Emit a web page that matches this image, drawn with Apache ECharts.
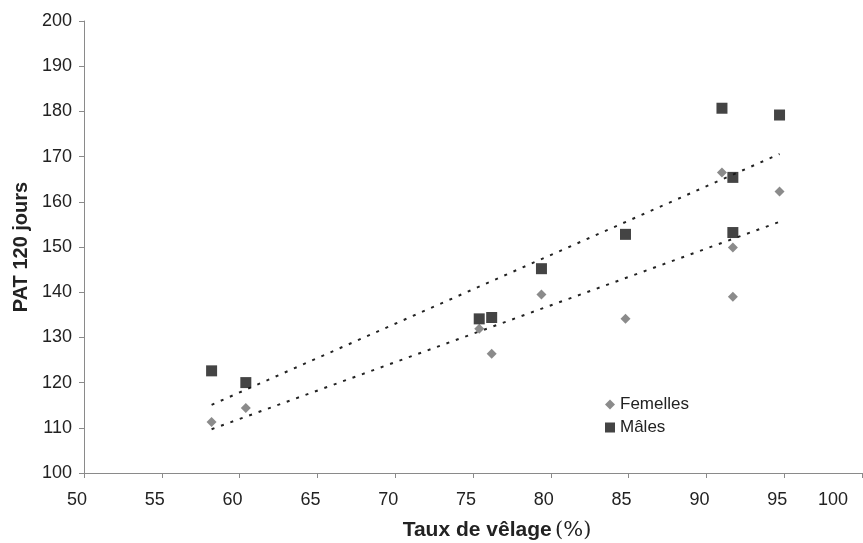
<!DOCTYPE html>
<html>
<head>
<meta charset="utf-8">
<script src="https://cdn.jsdelivr.net/npm/echarts@6/dist/echarts.min.js"></script>
<style>
  html, body { margin: 0; padding: 0; background: #fff; }
  #chart { width: 863px; height: 543px; }
</style>
</head>
<body>
<div id="chart"></div>
<script>
// taux de vêlage (%) par troupeau
const calvingRate = [58.2, 60.4, 75.4, 76.2, 79.4, 84.8, 91.0, 91.7, 91.7, 94.7]
// PAT 120 jours
const femelles = [111.3, 114.4, 131.9, 126.4, 139.5, 134.1, 166.5, 149.9, 139.0, 162.3]
const males = [122.6, 120.0, 134.1, 134.4, 145.2, 152.8, 180.7, 165.4, 153.2, 179.2]

const pairs = (ys) => calvingRate.map((x, i) => [x, ys[i]])

// least squares trend, drawn between min and max x
const trend = (ys) => {
  const n = calvingRate.length
  const mx = calvingRate.reduce((a, b) => a + b, 0) / n
  const my = ys.reduce((a, b) => a + b, 0) / n
  let sxy = 0, sxx = 0
  calvingRate.forEach((x, i) => {
    sxy += (x - mx) * (ys[i] - my)
    sxx += (x - mx) * (x - mx)
  })
  const b = sxy / sxx
  const a = my - b * mx
  const x0 = Math.min(...calvingRate)
  const x1 = Math.max(...calvingRate)
  return [[x0, a + b * x0], [x1, a + b * x1]]
}

const chart = echarts.init(document.getElementById('chart'))
const font = 'Liberation Sans, Arial, sans-serif'

chart.setOption({
  backgroundColor: '#fff',
  animation: false,
  textStyle: { fontFamily: font },
  grid: { left: 84, right: 1, top: 21, bottom: 70, outerBoundsMode: 'none' },
  legend: {
    orient: 'vertical',
    left: 600,
    top: 391,
    itemWidth: 10,
    itemHeight: 10,
    itemGap: 6,
    data: ['Femelles', 'Mâles'],
    textStyle: { fontSize: 17, color: '#222', fontFamily: font },
  },
  xAxis: {
    type: 'value',
    min: 50, max: 100, interval: 5,
    axisLine: { lineStyle: { color: '#8a8a8a', width: 1 } },
    axisTick: { show: true, length: 5, lineStyle: { color: '#8a8a8a' } },
    axisLabel: {
      fontSize: 18, color: '#222', margin: 18,
      padding: [0, 14, 0, 0],
      alignMaxLabel: 'right',
    },
    splitLine: { show: false },
    name: '{b|Taux de vêlage} {n|(%)}',
    nameLocation: 'middle',
    nameGap: 47,
    nameTextStyle: {
      padding: [0, 0, 0, 48],
      rich: {
        b: { fontSize: 21, fontWeight: 'bold', color: '#222', fontFamily: font },
        n: { fontSize: 21, color: '#222', fontFamily: 'DejaVu Serif, serif' },
      },
    },
  },
  yAxis: {
    type: 'value',
    min: 100, max: 200, interval: 10,
    axisLine: { show: true, lineStyle: { color: '#8a8a8a', width: 1 } },
    axisTick: { show: true, length: 5, lineStyle: { color: '#8a8a8a' } },
    axisLabel: { fontSize: 18, color: '#222', margin: 12 },
    splitLine: { show: false },
    name: 'PAT 120 jours',
    nameLocation: 'middle',
    nameGap: 52,
    nameTextStyle: { fontSize: 20, fontWeight: 'bold', color: '#222' },
  },
  series: [
    {
      name: 'Femelles',
      type: 'scatter',
      symbol: 'diamond',
      symbolSize: 10,
      itemStyle: { color: '#6e6e6e' },
      data: pairs(femelles),
      z: 3,
    },
    {
      name: 'Mâles',
      type: 'scatter',
      symbol: 'rect',
      symbolSize: 11,
      itemStyle: { color: '#151515' },
      data: pairs(males),
      z: 3,
    },
    {
      name: 'trend F',
      type: 'line',
      showSymbol: false,
      silent: true,
      lineStyle: { color: '#222', width: 2, type: [3, 7] },
      data: trend(femelles),
      z: 2,
    },
    {
      name: 'trend M',
      type: 'line',
      showSymbol: false,
      silent: true,
      lineStyle: { color: '#222', width: 2, type: [3, 7] },
      data: trend(males),
      z: 2,
    },
  ],
})
</script>
</body>
</html>
